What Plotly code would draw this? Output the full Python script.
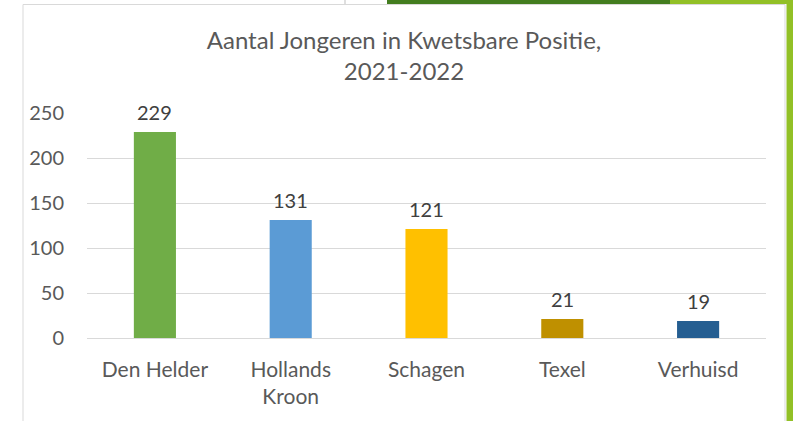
import plotly.graph_objects as go

categories = ["Den Helder", "Hollands<br>Kroon", "Schagen", "Texel", "Verhuisd"]
values = [229, 131, 121, 21, 19]
bar_colors = ["#70AD47", "#5B9BD5", "#FFC000", "#BF9000", "#255E91"]
y_ticks = [0, 50, 100, 150, 200, 250]
title_text = "Aantal Jongeren in Kwetsbare Positie,<br>2021-2022"

W, H = 793, 421
L, R, T, B = 87, 27, 113, 83
PW, PH = W - L - R, H - T - B

def px(x):
    return (x - L) / PW

def py(y):
    return (H - B - y) / PH

FONT = "Lato, Calibri, Carlito, sans-serif"
TXT = "#595959"

fig = go.Figure()
fig.add_trace(go.Bar(
    x=categories, y=values,
    marker=dict(color=bar_colors, line=dict(width=0)),
    hoverinfo="x+y",
))

for c, v in zip(categories, values):
    fig.add_annotation(x=c, y=v, xref="x", yref="y", text=str(v),
                       showarrow=False, yanchor="bottom", yshift=6,
                       font=dict(family=FONT, size=20, color="#404040"))

shapes = [
    # chart box
    dict(type="rect", xref="paper", yref="paper", x0=px(23), x1=px(785), y0=py(430), y1=py(4.5),
         line=dict(color="#D9D9D9", width=1), fillcolor="white", layer="below"),
    # slide decorations
    dict(type="rect", xref="paper", yref="paper", x0=px(387), x1=px(670), y0=py(4), y1=py(-2),
         line=dict(width=0), fillcolor="#437D1F", layer="below"),
    dict(type="rect", xref="paper", yref="paper", x0=px(670), x1=px(793), y0=py(4), y1=py(-2),
         line=dict(width=0), fillcolor="#92C026", layer="below"),
    dict(type="rect", xref="paper", yref="paper", x0=px(786.5), x1=px(793), y0=py(421), y1=py(0),
         line=dict(width=0), fillcolor="#92C026", layer="above"),
    dict(type="line", xref="paper", yref="paper", x0=px(345), x1=px(345), y0=py(4), y1=py(-2),
         line=dict(color="#BFBFBF", width=1), layer="below"),
]

fig.update_layout(
    width=W, height=H,
    margin=dict(l=L, r=R, t=T, b=B, pad=0),
    paper_bgcolor="white", plot_bgcolor="rgba(0,0,0,0)",
    bargap=0.69,
    showlegend=False,
    shapes=shapes,
    title=dict(text=title_text, x=404 / W, xanchor="center", xref="container",
               y=1 - 49 / H, yanchor="top", yref="container",
               font=dict(family=FONT, size=24, color=TXT)),
    font=dict(family=FONT, color=TXT),
    xaxis=dict(showgrid=False, showline=False, zeroline=False, ticks="",
               tickfont=dict(family=FONT, size=21, color=TXT), ticklabelstandoff=17),
    yaxis=dict(range=[0, 250], tickvals=y_ticks, showgrid=True, gridcolor="#D9D9D9", gridwidth=1,
               zeroline=True, zerolinecolor="#D9D9D9", zerolinewidth=1, showline=False, ticks="",
               tickfont=dict(family=FONT, size=20, color=TXT), ticklabelstandoff=22),
)

fig.write_html("out.html", config={"displayModeBar": False},
               post_script="document.body.style.margin='0';document.body.style.overflow='hidden';")
